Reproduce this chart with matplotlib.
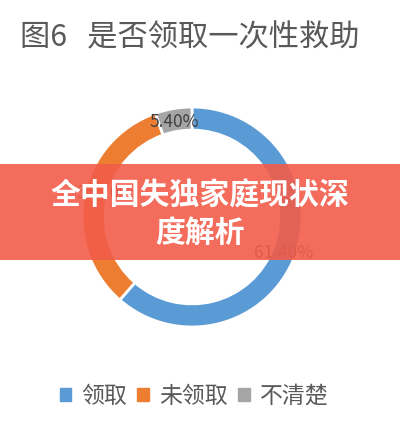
import matplotlib
matplotlib.use("Agg")
import matplotlib.pyplot as plt
from matplotlib.patches import Rectangle

plt.rcParams['font.family'] = ['Noto Sans CJK SC', 'DejaVu Sans']

title = "图6   是否领取一次性救助"
categories = ["领取", "未领取", "不清楚"]
values = [61.4, 33.2, 5.4]
labels = ["61.40%", "33.20%", "5.40%"]
colors = ["#5B9BD5", "#ED7D31", "#A5A5A5"]
banner_text = "全中国失独家庭现状深\n度解析"

W, H = 400, 424
fig = plt.figure(figsize=(W / 100, H / 100), dpi=100)
fig.patch.set_facecolor("white")

# donut
cx, cy, r = 192, 217, 110
ax = fig.add_axes([(cx - r) / W, 1 - (cy + r) / H, 2 * r / W, 2 * r / H])
wedges, _ = ax.pie(values, colors=colors, startangle=90, counterclock=False,
                   radius=1.0, wedgeprops=dict(width=0.21, edgecolor="white", linewidth=2))
ax.set_xlim(-1, 1)
ax.set_ylim(-1, 1)
ax.set_aspect("equal")
ax.axis("off")

# data labels (positions in axes data coordinates)
label_pos = [(0.83, -0.33), (-0.78, 0.22), (-0.16, 0.86)]
for (x, y), t in zip(label_pos, labels):
    ax.text(x, y, t, ha="center", va="center", fontsize=12.5, color="#404040")

# title
fig.text(20 / W, 1 - 38 / H, title, ha="left", va="center", fontsize=21.8, color="#595959")

# legend
handles = [Rectangle((0, 0), 1, 1, color=c) for c in colors]
fig.legend(handles, categories, loc="center", bbox_to_anchor=(0.485, 1 - 396 / H), ncol=3,
           frameon=False, fontsize=16.5, handlelength=0.5, handleheight=0.5,
           handletextpad=0.45, columnspacing=0.45, labelcolor="#595959")

# overlay banner
fig.patches.append(Rectangle((0, 1 - 260 / H), 1, 96 / H, transform=fig.transFigure,
                             facecolor="#F25C4A", alpha=0.9, edgecolor="none", zorder=5))
fig.text(0.5, 1 - 214 / H, banner_text, ha="center", va="center", fontsize=21.5,
         fontweight="bold", color="white", linespacing=1.3, zorder=6)

fig.savefig("out.png", dpi=100, facecolor="white")
